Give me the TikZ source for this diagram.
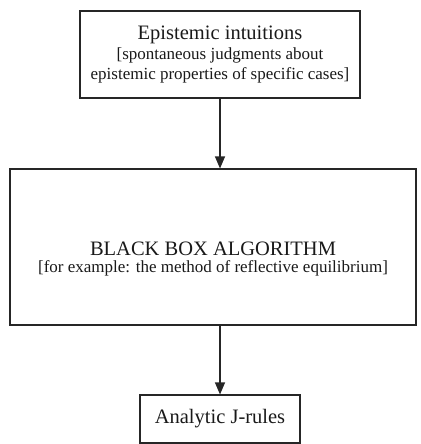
\documentclass[tikz,border=0pt]{standalone}
\usepackage{fontspec}
\setmainfont{Liberation Serif}
\usetikzlibrary{arrows.meta,positioning}

\begin{document}
\begin{tikzpicture}[x=1pt,y=-1pt,
        box/.style={draw=black!85, line width=1.1pt, inner sep=0pt, align=center, text=black!90},
        arr/.style={draw=black!85, line width=1.1pt, -{Triangle[width=10pt,length=12pt]}},
        bigtext/.style={font=\fontsize{20.5}{22}\selectfont},
        smalltext/.style={font=\fontsize{17}{20}\selectfont}]
        \useasboundingbox (0,0) rectangle (420,444);

        % the three boxes
        \node[box, smalltext, minimum width=280pt, minimum height=87pt] (intu) at (220,54.5)
            {{\fontsize{20.5}{22}\selectfont Epistemic intuitions}\\
             {[}spontaneous judgments about\\
             epistemic properties of specific cases]};
        \node[box, minimum width=406pt, minimum height=156pt] (algo) at (213,247) {};
        \node[align=center, smalltext, text=black!90] (algotext) at (213,259)
            {{\fontsize{20.5}{22}\selectfont BLACK BOX ALGORITHM}\\[-3pt]
             {[}for example: the method of reflective equilibrium]};
        \node[box, bigtext, minimum width=160pt, minimum height=48pt] (rules) at (220,419) {Analytic J-rules};

        % arrows
        \draw[arr] (intu) -- (algo.north -| intu);
        \draw[arr] (algo.south -| rules) -- (rules);
\end{tikzpicture}
\end{document}
